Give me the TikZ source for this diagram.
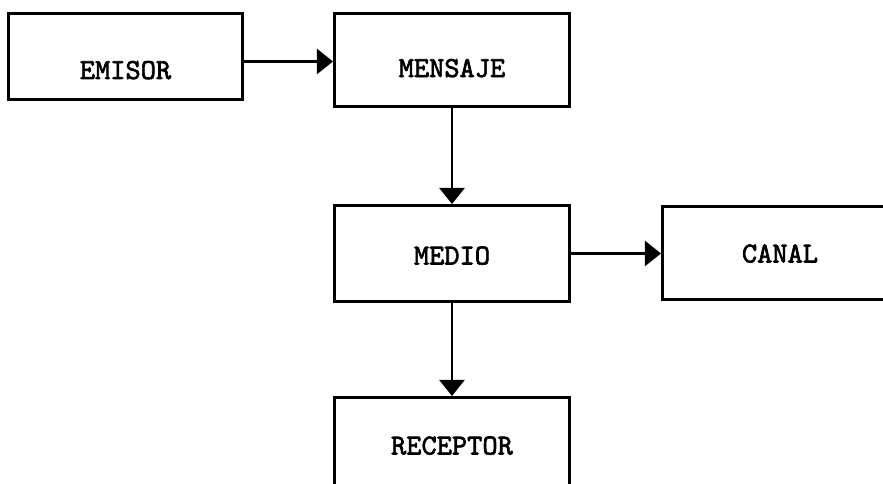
\documentclass[tikz,border=0pt]{standalone}
\usepackage{fontspec}
\newfontfamily\boxfont{lmmono10-regular}[Extension=.otf, AutoFakeBold=2.2]
\usetikzlibrary{arrows.meta,positioning}

\begin{document}
\begin{tikzpicture}[
    box/.style={draw, line width=1.7pt, minimum width=4.7cm, minimum height=#1,
        inner sep=0pt, text depth=0pt, text height=0.36cm,
        font=\fontsize{16.5}{19}\boxfont\bfseries},
    box/.default=1.9cm,
    lower/.style={text height=#1},
    arrow/.style={-{Triangle[length=3.2mm, width=5mm]}, line width=1.3pt},
    node distance=1.8cm
]
\useasboundingbox (0,0) rectangle (17.66,-9.66);
\clip (0,0) rectangle (17.66,-9.66);

\node[box=1.72cm, minimum width=4.68cm, lower=0.9cm, anchor=north west] (emisor) at (0.14,-0.24) {EMISOR};
\node[box=1.86cm, lower=0.68cm, right=1.78cm of emisor.north east, anchor=north west] (mensaje) {MENSAJE};
\node[box=1.92cm, lower=0.44cm, below=1.92cm of mensaje] (medio) {MEDIO};
\node[box=1.86cm, right=1.80cm of medio] (canal) {CANAL};
\node[box=1.92cm, below=1.86cm of medio] (receptor) {RECEPTOR};

\draw[arrow] ([yshift=-0.1cm]emisor.east) -- ([yshift=-0.1cm]emisor.east -| mensaje.west);
\draw[arrow] (mensaje) -- (medio);
\draw[arrow] (medio) -- (medio -| canal.west);
\draw[arrow] (medio) -- (receptor);
\end{tikzpicture}
\end{document}
